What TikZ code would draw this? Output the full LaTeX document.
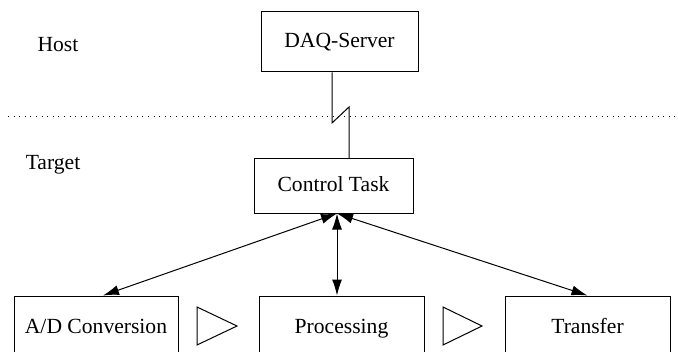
\documentclass[tikz,border=0pt]{standalone}
\usepackage{fontspec}
\setmainfont{Liberation Serif}
\usetikzlibrary{arrows.meta}
\tikzset{
    block/.style={draw, line width=0.5pt, inner sep=0pt, text height=1.6ex, text depth=0.4ex},
    flow/.style={{Latex[length=8pt,width=5pt]}-{Latex[length=8pt,width=5pt]}, line width=0.5pt},
}
\begin{document}
\begin{tikzpicture}[x=0.5pt, y=-0.5pt, font=\fontsize{10.8}{13}\selectfont]
            \useasboundingbox (0, 0) rectangle (678, 352);

            \node (host) at (58, 45) { Host };
            \node (target) at (53, 165) { Target };

            \node[block, minimum width=78.5pt, minimum height=30pt] (daq) at (339.5, 42) { DAQ-Server };
            \node[block, minimum width=79.5pt, minimum height=27pt] (ctrl) at (333.5, 186) { Control Task };

            \node[block, minimum width=82pt, minimum height=32pt] (ad) at (96, 328) { A/D Conversion };
            \node[block, minimum width=82.5pt, minimum height=32pt] (proc) at (341.5, 328) { Processing };
            \node[block, minimum width=82.5pt, minimum height=32pt] (xfer) at (587.5, 328) { Transfer };

            \coordinate (sepl) at (8, 117);
            \coordinate (sepr) at (678, 117);
            \draw[line width=0.5pt, dash pattern=on 0.5pt off 2.3pt] (sepl) -- (sepr);

            \coordinate (brk1) at (332, 123);
            \coordinate (brk2) at (349, 107);
            \draw[line width=0.5pt] (daq.south -| brk1) -- (brk1) -- (brk2) -- (ctrl.north -| brk2);

            \draw[flow] ([xshift=1.75pt]ctrl.south) -- ([xshift=3.5pt]ad.north);
            \draw[flow] ([xshift=1.75pt]ctrl.south) -- ([xshift=-2.25pt]proc.north);
            \draw[flow] ([xshift=1.75pt]ctrl.south) -- (xfer.north);

            \draw[line width=0.5pt] (197, 307) -- (237, 326) -- (197, 345) -- cycle;
            \draw[line width=0.5pt] (443, 307) -- (482, 326) -- (443, 345) -- cycle;
        \end{tikzpicture}
\end{document}
